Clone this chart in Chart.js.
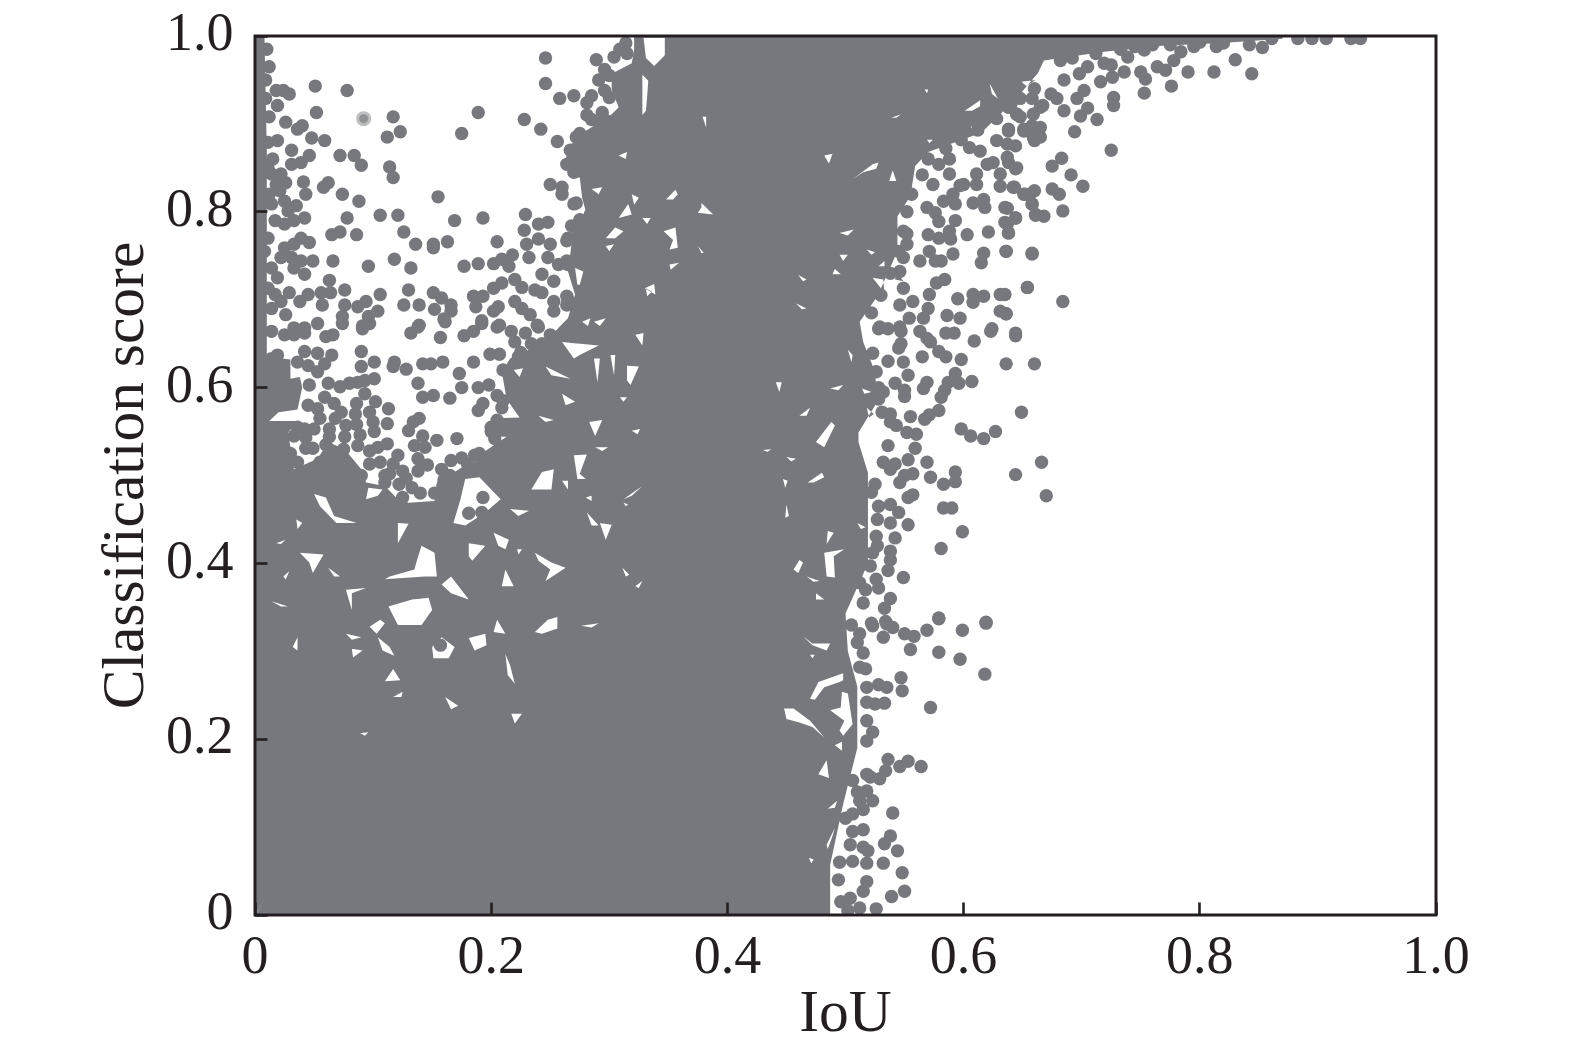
<!DOCTYPE html>
<html>
<head>
<meta charset="utf-8">
<title>IoU vs classification score</title>
<script src="https://cdn.jsdelivr.net/npm/chart.js@4"></script>
<style>
  html, body { margin: 0; background: #fff; }
  canvas { display: block; }
</style>
</head>
<body>
<canvas id="scatter_canvas" width="1575" height="1053"></canvas>
<script>
const tick_labels = ['0', '0.2', '0.4', '0.6', '0.8', '1.0'];

// Outline of the part where the dots overlap into one solid area. The single
// dots can no longer be told apart there, so it is read as a shape with gaps.
const solid_outline = [
  [0,0],[.487,0],[.487,.057],[.498,.126],[.510,.19],[.510,.26],[.502,.30],[.500,.343],[.504,.355],
  [.519,.400],[.519,.469],[.519,.503],[.511,.538],[.511,.549],[.527,.584],[.525,.618],[.515,.652],
  [.512,.675],[.527,.704],[.544,.755],[.544,.795],[.555,.818],[.559,.852],[.570,.868],[.615,.890],
  [.644,.928],[.663,.958],[.668,.972],[.719,.982],[.768,.989],[.819,.992],[.870,.997],[.870,1],
  [.321,1],[.321,.984],[.319,.969],[.302,.957],[.302,.938],[.308,.919],[.302,.911],[.280,.892],
  [.268,.877],[.261,.854],[.268,.839],[.275,.839],[.277,.816],[.280,.801],[.268,.778],[.268,.763],
  [.265,.732],[.271,.706],[.265,.679],[.257,.668],[.246,.652],[.216,.633],[.209,.618],[.213,.587],
  [.224,.566],[.203,.565],[.199,.545],[.213,.544],[.195,.528],[.189,.517],[.175,.509],[.155,.492],
  [.152,.471],[.130,.469],[.121,.473],[.110,.488],[.094,.492],[.090,.507],[.076,.530],[.062,.538],
  [.053,.519],[.033,.507],[.028,.549],[.036,.562],[.012,.562],[.020,.572],[.036,.575],[.040,.600],
  [.038,.612],[.030,.610],[.030,.632],[.010,.635],[.010,.870],[.008,1],[0,1]
];

const gaps_lower_left = [
  [[.050,.479],[.060,.475],[.067,.454],[.086,.446],[.069,.446],[.055,.465]],
  [[.096,.486],[.108,.484],[.104,.477],[.094,.473]],
  [[.038,.412],[.058,.410],[.049,.389],[.046,.401]],
  [[.110,.382],[.144,.385],[.154,.385],[.152,.412],[.141,.420],[.137,.403],[.135,.393],[.114,.385]],
  [[.077,.370],[.094,.372],[.082,.366],[.082,.347]],
  [[.113,.351],[.133,.359],[.147,.361],[.150,.347],[.141,.330],[.121,.330]],
  [[.158,.376],[.166,.385],[.181,.359],[.166,.366]],
  [[.181,.423],[.195,.420],[.184,.403],[.181,.408]],
  [[.178,.496],[.190,.498],[.208,.473],[.195,.458],[.178,.443],[.168,.446],[.174,.473]],
  [[.202,.435],[.215,.427],[.212,.416],[.206,.420]],
  [[.237,.412],[.251,.401],[.263,.395],[.246,.380],[.250,.393],[.240,.403]],
  [[.216,.462],[.232,.460],[.223,.454]],
  [[.024,.385],[.029,.391],[.026,.382]],
  [[.014,.357],[.028,.351],[.022,.351]],
  [[.018,.423],[.026,.427],[.022,.422]],
  [[.035,.450],[.040,.446],[.036,.439]],
  [[.062,.395],[.072,.385],[.067,.385]],
  [[.121,.446],[.130,.445],[.121,.423]],
  [[.212,.393],[.219,.374],[.209,.374]],
  [[.222,.416],[.226,.416],[.223,.410]]
];

const gaps_bottom_left = [
  [[.097,.328],[.106,.336],[.110,.332],[.103,.320]],
  [[.150,.305],[.158,.316],[.169,.305],[.164,.292],[.151,.292]],
  [[.181,.315],[.195,.320],[.196,.307],[.186,.301]],
  [[.077,.320],[.090,.316],[.082,.313]],
  [[.082,.303],[.091,.301],[.083,.293]],
  [[.104,.316],[.114,.305],[.118,.295],[.108,.301]],
  [[.237,.322],[.248,.336],[.256,.339],[.256,.326],[.243,.320]],
  [[.205,.336],[.212,.320],[.202,.322]],
  [[.212,.297],[.216,.284],[.220,.263],[.214,.273]],
  [[.117,.280],[.123,.267],[.110,.266]],
  [[.117,.248],[.125,.254],[.124,.248]],
  [[.161,.248],[.172,.238],[.166,.234]],
  [[.217,.229],[.226,.229],[.220,.218]],
  [[.089,.207],[.096,.208],[.093,.204]],
  [[.032,.305],[.036,.316],[.036,.301]],
  [[.276,.329],[.291,.332],[.285,.327]]
];

const gaps_middle = [
  [[.243,.504],[.253,.507],[.251,.484],[.234,.484]],
  [[.281,.458],[.291,.443],[.285,.443]],
  [[.283,.561],[.294,.563],[.288,.545]],
  [[.260,.652],[.291,.648],[.275,.637],[.270,.633]],
  [[.219,.620],[.227,.622],[.224,.612]],
  [[.246,.624],[.267,.610],[.251,.614]],
  [[.260,.593],[.271,.584],[.263,.580]],
  [[.287,.633],[.292,.633],[.290,.606]],
  [[.270,.523],[.281,.524],[.275,.502],[.280,.496],[.273,.496]],
  [[.240,.568],[.253,.563],[.246,.561]],
  [[.315,.625],[.325,.624],[.318,.603],[.315,.608]],
  [[.319,.551],[.326,.553],[.324,.547]],
  [[.322,.660],[.329,.662],[.328,.648]],
  [[.301,.637],[.305,.637],[.304,.614]],
  [[.309,.589],[.315,.589],[.312,.584]],
  [[.312,.473],[.328,.488],[.319,.477]],
  [[.292,.446],[.302,.444],[.297,.427]],
  [[.312,.469],[.316,.467],[.314,.465]],
  [[.288,.532],[.299,.532],[.294,.528]],
  [[.311,.395],[.317,.387],[.314,.385]],
  [[.322,.374],[.328,.380],[.325,.372]],
  [[.260,.494],[.265,.494],[.265,.484]],
  [[.280,.475],[.285,.477],[.285,.471]]
];

const gaps_upper_column = [
  [[.329,.998],[.347,.998],[.347,.978],[.338,.966],[.331,.975]],
  [[.328,.956],[.333,.949],[.332,.930],[.331,.915],[.328,.910]],
  [[.297,.770],[.305,.782],[.312,.778],[.305,.770]],
  [[.308,.864],[.315,.868],[.314,.860]],
  [[.285,.826],[.294,.828],[.291,.820]],
  [[.308,.793],[.316,.809],[.319,.797]],
  [[.297,.761],[.304,.763],[.300,.755]],
  [[.271,.736],[.278,.732],[.275,.717],[.273,.717]],
  [[.328,.793],[.335,.793],[.332,.786]],
  [[.287,.675],[.297,.679],[.292,.670]],
  [[.331,.713],[.336,.709],[.332,.704]],
  [[.277,.675],[.284,.679],[.282,.670]],
  [[.319,.820],[.325,.816],[.321,.808]],
  [[.379,.908],[.382,.908],[.382,.896]],
  [[.482,.864],[.489,.866],[.486,.855]],
  [[.506,.837],[.523,.854],[.528,.856],[.526,.849],[.515,.845]],
  [[.540,.847],[.543,.835],[.537,.835]],
  [[.539,.907],[.547,.911],[.543,.907]],
  [[.601,.915],[.614,.927],[.614,.920],[.607,.915]],
  [[.622,.946],[.629,.929],[.624,.934]],
  [[.649,.948],[.661,.950],[.653,.943]],
  [[.348,.814],[.356,.825],[.358,.820],[.354,.814]],
  [[.378,.810],[.388,.797],[.375,.799],[.378,.805]],
  [[.346,.778],[.356,.782],[.358,.759],[.351,.757],[.354,.768]],
  [[.351,.740],[.359,.742],[.352,.734]],
  [[.330,.713],[.338,.718],[.339,.706],[.335,.709]],
  [[.375,.761],[.380,.753],[.378,.753]],
  [[.495,.776],[.507,.780],[.502,.773]],
  [[.518,.757],[.525,.754],[.522,.751]],
  [[.495,.751],[.502,.751],[.498,.744]],
  [[.491,.735],[.496,.729],[.489,.729]],
  [[.460,.728],[.467,.723],[.464,.721]],
  [[.458,.696],[.467,.690],[.463,.689]],
  [[.523,.725],[.532,.723],[.533,.706],[.530,.713]],
  [[.543,.732],[.549,.721],[.542,.723]],
  [[.528,.738],[.533,.744],[.533,.738]],
  [[.567,.939],[.570,.939],[.569,.935]],
  [[.606,.897],[.610,.896],[.608,.892]],
  [[.569,.882],[.574,.882],[.571,.878]]
];

const gaps_right_column = [
  [[.488,.561],[.491,.557],[.482,.532],[.475,.538]],
  [[.441,.606],[.446,.606],[.444,.595]],
  [[.502,.643],[.506,.637],[.505,.629]],
  [[.461,.568],[.470,.577],[.467,.568]],
  [[.468,.492],[.480,.503],[.482,.498],[.473,.492]],
  [[.447,.496],[.451,.494],[.449,.486]],
  [[.450,.521],[.458,.519],[.454,.516]],
  [[.485,.437],[.490,.435],[.484,.422]],
  [[.461,.404],[.464,.401],[.460,.389],[.456,.393]],
  [[.482,.412],[.499,.416],[.490,.408],[.491,.384],[.484,.385]],
  [[.467,.385],[.478,.380],[.473,.379]],
  [[.475,.366],[.482,.359],[.475,.359]],
  [[.450,.467],[.452,.454],[.449,.452]],
  [[.430,.529],[.437,.530],[.434,.527]],
  [[.510,.446],[.517,.441],[.513,.439]],
  [[.487,.599],[.498,.603],[.494,.597]],
  [[.518,.577],[.524,.570],[.520,.566]],
  [[.514,.599],[.522,.595],[.516,.593]],
  [[.464,.317],[.472,.309],[.487,.309],[.484,.301],[.472,.307]],
  [[.470,.246],[.477,.265],[.498,.275],[.498,.267],[.495,.265],[.482,.259],[.474,.245]],
  [[.497,.254],[.502,.252],[.506,.217],[.498,.204],[.495,.210],[.499,.221],[.487,.233],[.496,.236]],
  [[.448,.235],[.456,.235],[.470,.221],[.482,.202],[.472,.214],[.461,.219],[.450,.223]],
  [[.491,.193],[.497,.197],[.497,.187]],
  [[.484,.176],[.486,.156],[.477,.160]],
  [[.485,.121],[.493,.130],[.491,.122]],
  [[.484,.080],[.491,.099],[.489,.090],[.485,.075]],
  [[.469,.065],[.473,.063],[.471,.059]],
  [[.470,.296],[.474,.296],[.472,.292]]
];

const faint_dots = [[.092,.906]];

const upper_left_dots = [
  [.246,.975],[.289,.973],[.246,.946],[.051,.943],[.078,.938],[.258,.929],[.270,.932],[.285,.932],[.281,.924],
  [.052,.913],[.189,.913],[.117,.908],[.228,.905],[.242,.894],[.123,.891],[.112,.885],[.175,.889],[.256,.880],
  [.026,.902],[.040,.898],[.036,.894],[.048,.884],[.059,.881],[.011,.879],[.019,.881],[.031,.870],[.072,.864],
  [.084,.864],[.090,.853],[.046,.864],[.039,.856],[.031,.854],[.015,.860],[.114,.851],[.117,.839],[.041,.834],
  [.043,.820],[.062,.833],[.058,.828],[.074,.820],[.088,.812],[.155,.817],[.106,.796],[.121,.796],[.078,.793],
  [.169,.790],[.193,.793],[.229,.797],[.228,.779],[.240,.786],[.248,.788],[.126,.777],[.072,.777],[.065,.774],
  [.086,.774],[.136,.763],[.151,.763],[.151,.759],[.163,.766],[.205,.766],[.042,.793],[.033,.790],[.025,.786],
  [.017,.790],[.035,.807],[.025,.812],[.026,.833],[.014,.843],[.022,.843],[.029,.934],[.024,.938],[.018,.938],
  [.009,.929],[.019,.921],[.012,.908],[.118,.746],[.096,.738],[.132,.736],[.066,.744],[.063,.722],[.177,.738],
  [.189,.741],[.202,.741],[.209,.746],[.218,.751],[.215,.738],[.220,.723],[.209,.719],[.202,.713],[.226,.714],
  [.237,.711],[.243,.708],[.130,.711],[.106,.706],[.076,.711],[.064,.708],[.056,.708],[.045,.706],[.038,.698],
  [.029,.708],[.057,.694],[.076,.694],[.087,.692],[.094,.698],[.104,.687],[.096,.681],[.074,.681],[.074,.673],
  [.053,.673],[.091,.670],[.126,.694],[.139,.694],[.151,.708],[.158,.702],[.152,.689],[.166,.694],[.166,.687],
  [.160,.678],[.185,.704],[.193,.704],[.187,.692],[.202,.687],[.206,.692],[.220,.698],[.226,.690],[.233,.683],
  [.239,.671],[.192,.676],[.207,.671],[.139,.671],[.042,.668],[.033,.668],[.026,.683],[.253,.698],[.253,.687],
  [.264,.704],[.264,.694],[.230,.763],[.240,.769],[.250,.763],[.264,.767],[.232,.748],[.248,.748],[.257,.740],
  [.264,.744],[.243,.729],[.253,.721],[.260,.828],[.250,.831],[.260,.820],[.270,.809],[.267,.870],[.264,.854],
  [.275,.889],[.281,.910],[.294,.913],[.297,.904],[.268,.784],[.275,.791],[.284,.797],
  [.012,.965],[.010,.985],[.009,.950],[.012,.820],[.018,.831],[.011,.850],[.021,.824],[.028,.801],[.014,.809],
  [.025,.759],[.033,.763],[.039,.770],[.046,.765],[.022,.748],[.031,.748],[.039,.744],[.049,.744],[.033,.736],
  [.042,.729],[.014,.736],[.019,.725],[.017,.706],[.014,.690],[.022,.698],[.011,.713],[.011,.770],[.008,.755],
  [.304,.976],[.296,.962],[.291,.950],[.309,.985],[.314,.992],[.296,.938],[.285,.905],[.292,.897],[.275,.868]
];

const middle_left_dots = [
  [.091,.667],[.097,.673],[.132,.662],[.138,.669],[.157,.657],[.161,.675],[.177,.659],[.185,.664],[.192,.673],
  [.205,.669],[.217,.664],[.229,.662],[.240,.669],[.033,.660],[.042,.662],[.060,.658],[.066,.660],[.025,.660],
  [.014,.664],[.220,.652],[.234,.650],[.243,.650],[.090,.641],[.101,.629],[.118,.629],[.117,.624],[.128,.621],
  [.142,.627],[.149,.627],[.159,.629],[.185,.629],[.199,.638],[.207,.638],[.223,.635],[.237,.635],[.042,.641],
  [.053,.639],[.065,.637],[.019,.637],[.014,.633],[.036,.629],[.059,.627],[.045,.625],[.090,.624],[.101,.610],
  [.093,.608],[.087,.606],[.053,.618],[.046,.603],[.062,.605],[.072,.601],[.080,.605],[.138,.605],[.173,.616],
  [.175,.600],[.189,.600],[.198,.603],[.093,.593],[.102,.584],[.086,.582],[.113,.576],[.097,.572],[.142,.589],
  [.151,.591],[.165,.588],[.205,.591],[.209,.577],[.193,.582],[.189,.574],[.059,.589],[.067,.582],[.053,.576],
  [.073,.572],[.045,.580],[.100,.561],[.101,.550],[.112,.559],[.139,.565],[.134,.561],[.130,.551],[.142,.545],
  [.154,.540],[.171,.542],[.205,.563],[.200,.555],[.203,.542],[.063,.553],[.063,.544],[.077,.557],[.076,.544],
  [.042,.553],[.043,.531],[.049,.531],[.087,.534],[.097,.528],[.104,.532],[.135,.534],[.144,.532],[.138,.519],
  [.138,.505],[.121,.523],[.117,.513],[.158,.507],[.097,.513],[.106,.515],[.110,.500],[.114,.502],[.133,.486],
  [.140,.480],[.159,.488],[.055,.515],[.050,.553],[.055,.565],[.068,.565],[.085,.570],[.086,.558],[.089,.546],
  [.112,.536],[.125,.505],[.128,.497],[.122,.490],[.146,.512],[.175,.520],[.166,.517],[.160,.495],[.186,.523],
  [.033,.545],[.036,.555],[.043,.543],[.030,.525],[.036,.515]
];

const pocket_dots = [
  [.193,.475],[.181,.457],[.192,.458],[.157,.307]
];

// Dots that sit on the rim of the solid area and give it its bumpy edge.
const rim_dots = [
  [.682,.972],[.692,.975],[.712,.980],[.733,.985],[.745,.988],[.760,.990],[.775,.990],[.800,.993],[.820,.992],
  [.640,.922],[.628,.906],[.612,.893],[.598,.882],[.585,.872],[.570,.860],[.565,.842],[.556,.820],[.552,.800],
  [.552,.775],[.545,.755],[.538,.730],[.530,.705],[.522,.685],[.528,.600],[.532,.595],[.525,.490],[.527,.450],
  [.527,.420],[.517,.370],[.505,.330],[.510,.310],[.517,.280],[.518,.160],[.510,.140],[.500,.110],[.495,.060],
  [.494,.040],[.496,.015],[.152,.480],[.165,.500],[.180,.513],[.190,.525],[.200,.550],[.210,.585],[.210,.620],
  [.225,.640],[.250,.660],[.265,.700],[.265,.740],[.265,.770],[.272,.810],[.270,.845],[.272,.885],[.295,.905],
  [.300,.930],[.300,.955],[.315,.980],[.125,.475],[.110,.492],[.090,.500],[.075,.530],[.060,.535]
];

const right_fringe_dots = [
  [.528,.667],[.536,.667],[.547,.664],[.547,.650],[.545,.645],[.563,.664],[.569,.656],[.572,.652],[.585,.662],
  [.592,.662],[.609,.653],[.623,.664],[.644,.659],[.565,.635],[.579,.641],[.585,.635],[.598,.632],[.636,.627],
  [.660,.627],[.523,.639],[.536,.630],[.549,.629],[.553,.614],[.542,.605],[.550,.597],[.550,.590],[.569,.606],
  [.566,.599],[.587,.606],[.596,.605],[.593,.616],[.584,.597],[.581,.589],[.607,.607],[.526,.618],[.528,.587],
  [.531,.572],[.538,.570],[.555,.567],[.579,.574],[.571,.569],[.567,.564],[.649,.572],[.538,.561],[.543,.557],
  [.552,.549],[.560,.547],[.598,.553],[.606,.545],[.617,.542],[.627,.550],[.536,.534],[.559,.531],[.553,.518],
  [.542,.513],[.569,.515],[.593,.504],[.593,.493],[.583,.490],[.572,.498],[.557,.502],[.550,.500],[.546,.492],
  [.644,.501],[.666,.515],[.670,.477],[.522,.481],[.528,.465],[.538,.467],[.545,.458],[.553,.475],[.557,.478],
  [.583,.463],[.590,.463],[.553,.444],[.538,.446],[.542,.429],[.599,.436],[.581,.417],[.538,.414],[.538,.404],
  [.536,.392],[.549,.384],[.526,.382],[.528,.372],[.538,.360],[.533,.349],[.579,.338],[.619,.333],[.522,.332],
  [.534,.334],[.526,.431],[.523,.412],[.521,.397],[.512,.378],[.515,.355],[.532,.515],[.538,.507]
];

const lower_fringe_dots = [
  [.523,.329],[.535,.331],[.540,.327],[.532,.316],[.550,.320],[.558,.317],[.569,.324],[.579,.337],[.599,.324],
  [.619,.332],[.555,.302],[.579,.299],[.597,.291],[.618,.274],[.547,.270],[.548,.255],[.528,.262],[.535,.259],
  [.572,.236],[.533,.241],[.525,.240],[.523,.208],[.518,.221],[.536,.177],[.553,.175],[.546,.169],[.564,.169],
  [.534,.164],[.529,.155],[.521,.157],[.523,.130],[.518,.141],[.515,.120],[.540,.116],[.515,.097],[.538,.090],
  [.533,.081],[.544,.073],[.515,.077],[.519,.073],[.532,.059],[.548,.048],[.550,.027],[.539,.021],[.518,.059],
  [.518,.038],[.515,.027],[.526,.007],[.512,.008],[.502,.005],[.506,.061],[.512,.320],[.515,.298],[.512,.282],
  [.518,.259],[.518,.242],[.518,.198],[.506,.153],[.512,.130],[.506,.115],[.506,.095],[.504,.080],[.504,.019]
];

const upper_fringe_dots = [
  [.574,.831],[.588,.860],[.579,.854],[.588,.843],[.600,.831],[.611,.843],[.611,.831],[.631,.829],[.642,.828],
  [.644,.849],[.631,.843],[.625,.856],[.637,.862],[.659,.885],[.665,.896],[.651,.892],[.638,.894],[.645,.911],
  [.656,.820],[.651,.820],[.658,.809],[.661,.797],[.635,.805],[.644,.793],[.635,.788],[.638,.776],[.621,.777],
  [.603,.774],[.593,.790],[.588,.778],[.589,.769],[.579,.770],[.570,.774],[.608,.810],[.617,.814],[.618,.805],
  [.597,.830],[.591,.820],[.583,.812],[.593,.809],[.569,.805],[.576,.799],[.579,.789],[.591,.752],[.617,.753],
  [.615,.742],[.636,.755],[.658,.753],[.654,.714],[.631,.706],[.617,.704],[.608,.706],[.608,.697],[.631,.687],
  [.636,.684],[.595,.701],[.586,.682],[.597,.679],[.624,.667],[.581,.744],[.571,.755],[.576,.744],[.577,.719],
  [.584,.723],[.571,.706],[.570,.690],[.557,.698],[.554,.679],[.546,.694],[.546,.669],[.529,.669],[.563,.744],
  [.552,.763],[.549,.748],[.546,.732],[.549,.713],[.549,.778],[.566,.679],[.628,.881],[.620,.854],[.605,.873],
  [.614,.869],[.637,.877],[.648,.908],[.639,.919],[.659,.911],[.665,.919]
];

const top_right_dots = [
  [.883,.997],[.895,.997],[.907,.997],[.928,.997],[.936,.997],[.861,.997],[.842,.990],[.853,.987],[.830,.973],
  [.790,.959],[.812,.959],[.844,.957],[.776,.943],[.753,.935],[.727,.930],[.727,.921],[.778,.972],[.784,.982],
  [.795,.988],[.814,.988],[.764,.965],[.771,.961],[.750,.959],[.754,.951],[.736,.959],[.726,.953],[.716,.948],
  [.702,.938],[.696,.929],[.705,.918],[.699,.909],[.685,.915],[.679,.929],[.674,.934],[.667,.921],[.658,.929],
  [.648,.929],[.713,.905],[.694,.891],[.645,.911],[.638,.919],[.658,.898],[.651,.894],[.638,.892],[.665,.885],
  [.660,.881],[.644,.875],[.725,.870],[.683,.861],[.675,.852],[.691,.842],[.701,.829],[.645,.850],[.638,.856],
  [.643,.828],[.675,.826],[.681,.820],[.660,.824],[.652,.820],[.658,.809],[.684,.801],[.668,.795],[.661,.796],
  [.637,.804],[.644,.793],[.637,.786],[.638,.776],[.658,.752],[.636,.755],[.654,.714],[.684,.698],[.635,.706],
  [.636,.684],[.644,.662],[.739,.976],[.753,.984],[.685,.950],[.660,.940],[.698,.957],[.719,.969],[.725,.967],
  [.705,.965]
];

const dot_color = '#76787e';
const axis_color = '#231f20';
const tick_font = {family: '"Liberation Serif", serif', size: 54};
const title_font = {family: '"Liberation Serif", serif', size: 59.5};

function as_points(pairs) {
  return pairs.map(([x, y]) => ({x: x, y: y}));
}

function signed_area(ring) {
  let area = 0;
  ring.forEach(([x, y], i) => {
    const [next_x, next_y] = ring[(i + 1) % ring.length];
    area += x * next_y - next_x * y;
  });
  return area;
}

/**
 * Joins the gaps onto the outline with zero width cuts, so that one closed
 * path gives the solid area with the gaps left open.
 */
function outline_with_gaps(outline, gaps) {
  const anchor = outline[0];
  const path = outline.slice();
  path.push(anchor);
  for (const gap of gaps) {
    const ring = signed_area(gap) > 0 ? gap.slice().reverse() : gap;
    path.push(...ring, ring[0], anchor);
  }
  return path;
}

function dot_dataset(pairs) {
  return {
    data: as_points(pairs),
    backgroundColor: dot_color,
    borderWidth: 0,
    pointRadius: 6.7,
    clip: 0
  };
}

// Draws the closed frame around the plot, on top of the dots.
const frame_plugin = {
  id: 'frame',
  afterDatasetsDraw(chart) {
    const {ctx, chartArea} = chart;
    ctx.save();
    ctx.strokeStyle = axis_color;
    ctx.lineWidth = 3;
    ctx.strokeRect(chartArea.left, chartArea.top,
      chartArea.right - chartArea.left, chartArea.bottom - chartArea.top);
    ctx.restore();
  }
};

function axis_options(title, title_padding, fit) {
  return {
    type: 'linear',
    min: 0,
    max: 1,
    border: {display: false},
    grid: {
      drawOnChartArea: false,
      drawTicks: true,
      tickLength: -12.5,
      tickWidth: 2.6,
      tickColor: axis_color,
      z: 1
    },
    ticks: {
      stepSize: 0.2,
      color: axis_color,
      font: tick_font,
      maxRotation: 0,
      callback: (value, index) => tick_labels[index]
    },
    title: {
      display: true,
      text: title,
      color: axis_color,
      font: title_font,
      padding: title_padding
    },
    afterFit: fit
  };
}

const x_axis = axis_options('IoU', {top: 0, bottom: 2}, (scale) => {
  scale.height = 138;
  scale.paddingLeft = 0;
  scale.paddingRight = 0;
});
x_axis.ticks.padding = 24;

const y_axis = axis_options('Classification score', {top: 92, bottom: 0}, (scale) => {
  scale.width = 255;
  scale.paddingTop = 0;
  scale.paddingBottom = 0;
});
y_axis.ticks.padding = 34;

const all_gaps = [
  ...gaps_lower_left, ...gaps_bottom_left, ...gaps_middle,
  ...gaps_upper_column, ...gaps_right_column
];

new Chart(document.getElementById('scatter_canvas'), {
  type: 'scatter',
  data: {
    datasets: [
      {
        data: as_points(outline_with_gaps(solid_outline, all_gaps)),
        showLine: true,
        fill: 'shape',
        tension: 0,
        backgroundColor: dot_color,
        borderWidth: 0,
        pointRadius: 0,
        clip: 0
      },
      dot_dataset(upper_left_dots),
      dot_dataset(middle_left_dots),
      dot_dataset(pocket_dots),
      dot_dataset(rim_dots),
      dot_dataset(right_fringe_dots),
      dot_dataset(lower_fringe_dots),
      dot_dataset(upper_fringe_dots),
      dot_dataset(top_right_dots),
      {
        data: as_points(faint_dots),
        backgroundColor: '#8f9193',
        borderColor: '#bcbdbd',
        borderWidth: 3,
        pointRadius: 6,
        clip: 0
      }
    ]
  },
  options: {
    responsive: false,
    animation: false,
    events: [],
    layout: {padding: {left: 0, right: 139, top: 36, bottom: 0}},
    plugins: {legend: {display: false}, title: {display: false}, tooltip: {enabled: false}},
    scales: {x: x_axis, y: y_axis}
  },
  plugins: [frame_plugin]
});
</script>
</body>
</html>
